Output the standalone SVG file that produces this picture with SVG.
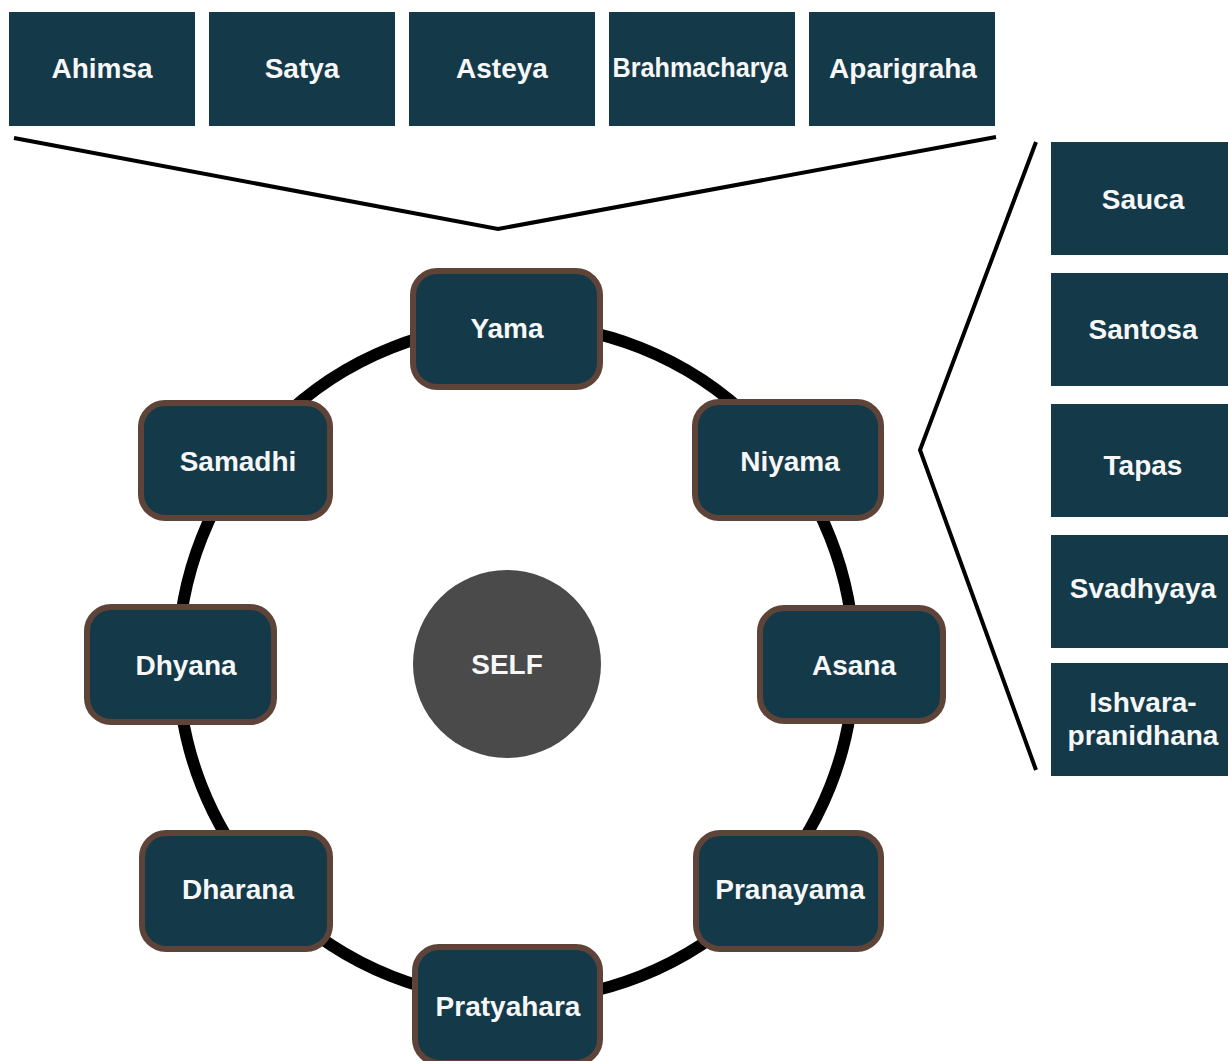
<svg xmlns="http://www.w3.org/2000/svg" width="1228" height="1061" viewBox="0 0 1228 1061">
<style>
.sq{fill:#143a4a;}
.rn{fill:#143a4a;stroke:#5e4339;stroke-width:6;}
.t{font-family:"Liberation Sans",Arial,sans-serif;font-weight:bold;font-size:28px;fill:#f7f7f7;text-anchor:middle;}
.ln{fill:none;stroke:#000;stroke-width:4;stroke-linejoin:miter;}
</style>
<rect width="1228" height="1061" fill="#ffffff"/>
<g id="connectors">
<circle cx="516" cy="662" r="338" fill="none" stroke="#000" stroke-width="12"/>
<polyline class="ln" points="14,138 498,229 996,137"/>
<polyline class="ln" points="1036,142 920,450 1036,770"/>
</g>
<g id="self"><circle cx="507" cy="664" r="94" fill="#4a4a4a"/><text class="t" x="507" y="674">SELF</text></g>
<g id="ahimsa"><rect class="sq" x="9" y="12" width="186" height="114"/><text class="t" x="102" y="78">Ahimsa</text></g>
<g id="satya"><rect class="sq" x="209" y="12" width="186" height="114"/><text class="t" x="302" y="78">Satya</text></g>
<g id="asteya"><rect class="sq" x="409" y="12" width="186" height="114"/><text class="t" x="502" y="78">Asteya</text></g>
<g id="brahmacharya"><rect class="sq" x="609" y="12" width="186" height="114"/><text class="t" x="700" y="77" textLength="175" lengthAdjust="spacingAndGlyphs">Brahmacharya</text></g>
<g id="aparigraha"><rect class="sq" x="809" y="12" width="186" height="114"/><text class="t" x="903" y="78">Aparigraha</text></g>
<g id="sauca"><rect class="sq" x="1051" y="142" width="186" height="113"/><text class="t" x="1143" y="209">Sauca</text></g>
<g id="santosa"><rect class="sq" x="1051" y="273" width="186" height="113"/><text class="t" x="1143" y="339">Santosa</text></g>
<g id="tapas"><rect class="sq" x="1051" y="404" width="186" height="113"/><text class="t" x="1143" y="475">Tapas</text></g>
<g id="svadhyaya"><rect class="sq" x="1051" y="535" width="186" height="113"/><text class="t" x="1143" y="598">Svadhyaya</text></g>
<g id="ishvara"><rect class="sq" x="1051" y="663" width="186" height="113"/><text class="t" x="1143" y="712">Ishvara-</text><text class="t" x="1143" y="745">pranidhana</text></g>
<g id="yama"><rect class="rn" x="413" y="271" width="187" height="116" rx="24"/><text class="t" x="507" y="338">Yama</text></g>
<g id="niyama"><rect class="rn" x="695" y="402" width="186" height="116" rx="24"/><text class="t" x="790" y="471">Niyama</text></g>
<g id="asana"><rect class="rn" x="760" y="608" width="183" height="113" rx="24"/><text class="t" x="854" y="675">Asana</text></g>
<g id="pranayama"><rect class="rn" x="696" y="833" width="185" height="116" rx="24"/><text class="t" x="790" y="899">Pranayama</text></g>
<g id="pratyahara"><rect class="rn" x="415" y="947" width="185" height="116" rx="24"/><text class="t" x="508" y="1016">Pratyahara</text></g>
<g id="dharana"><rect class="rn" x="142" y="833" width="188" height="116" rx="24"/><text class="t" x="238" y="899">Dharana</text></g>
<g id="dhyana"><rect class="rn" x="87" y="607" width="187" height="115" rx="24"/><text class="t" x="186" y="675">Dhyana</text></g>
<g id="samadhi"><rect class="rn" x="141" y="403" width="189" height="115" rx="24"/><text class="t" x="238" y="471">Samadhi</text></g>
</svg>
